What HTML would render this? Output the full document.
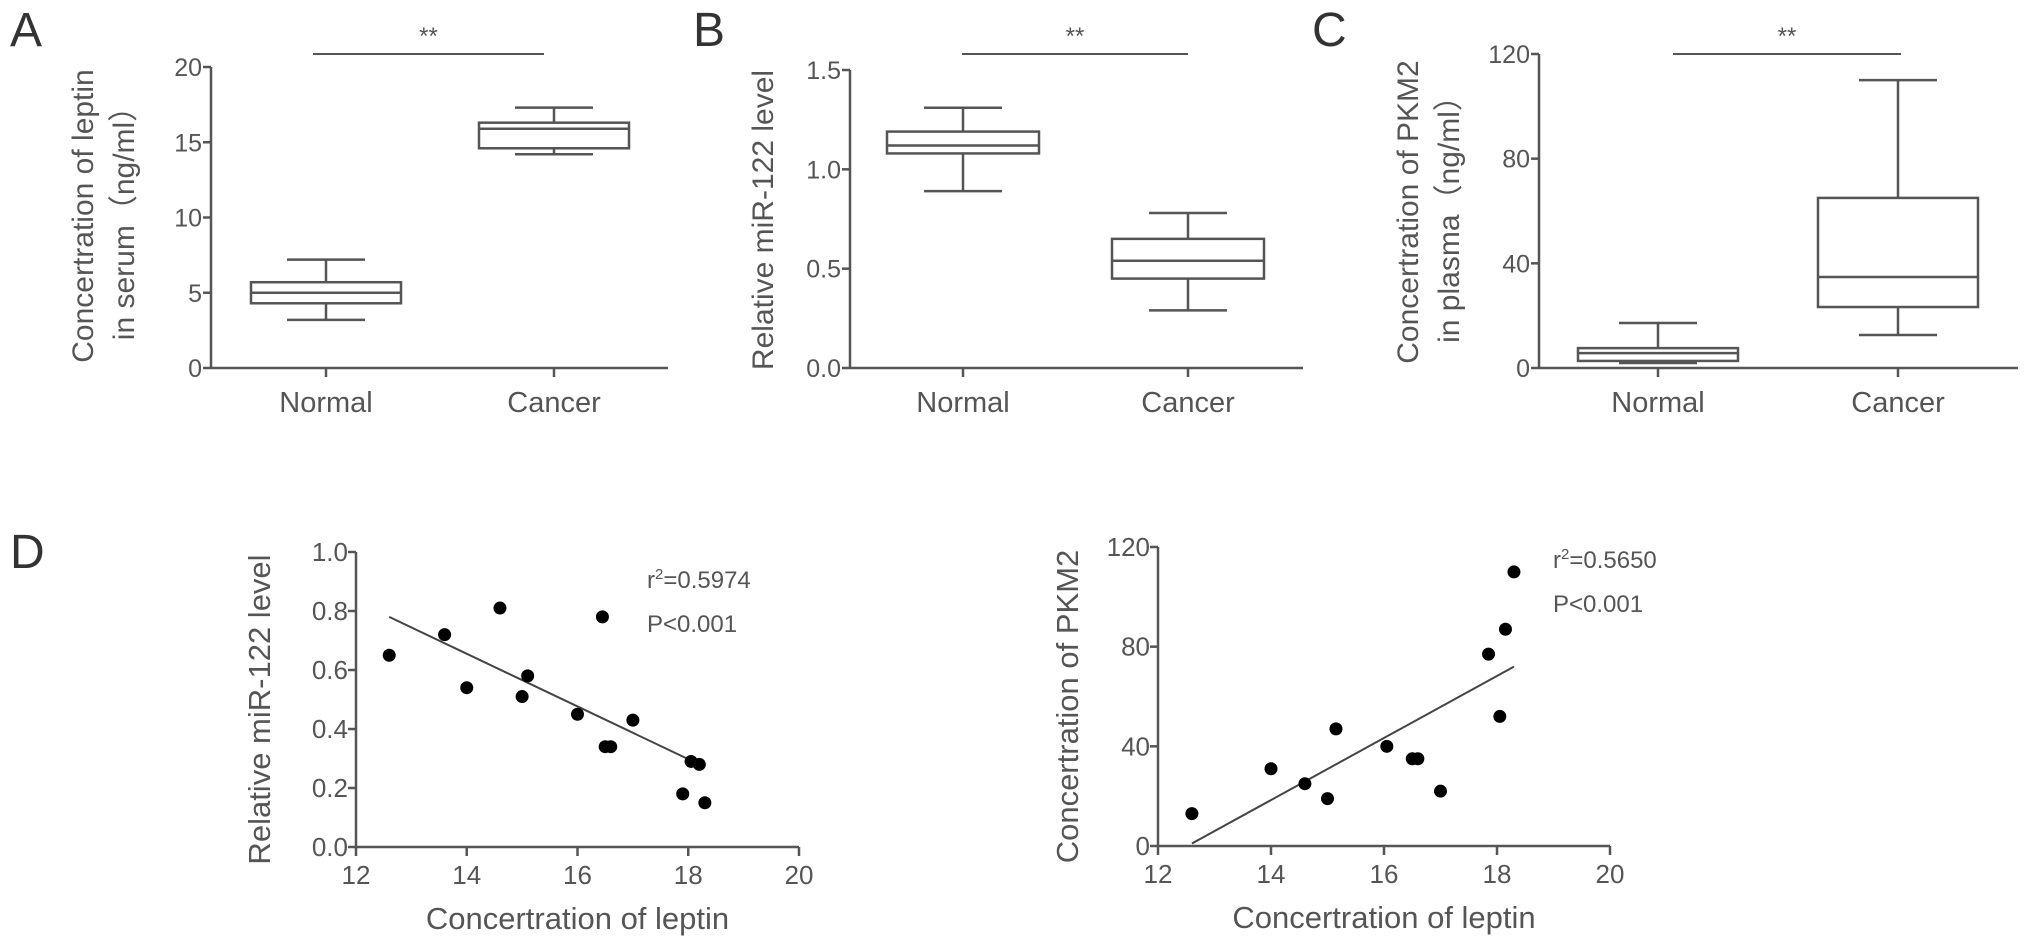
<!DOCTYPE html>
<html><head><meta charset="utf-8"><style>
html,body{margin:0;padding:0;background:#fff;}
svg{display:block;font-family:"Liberation Sans","Noto Sans CJK SC",sans-serif;}
</style></head><body>
<svg id="fig" width="2031" height="951" viewBox="0 0 2031 951" xmlns="http://www.w3.org/2000/svg"></svg>
<script>
// Box data: [min, q1, median, q3, max]
const boxCats = ["Normal","Cancer"];
const boxA = [[3.2,4.3,5.0,5.7,7.2],[14.2,14.6,15.9,16.3,17.3]];
const boxB = [[0.89,1.08,1.12,1.19,1.31],[0.29,0.45,0.54,0.65,0.78]];
const boxC = [[1.9,2.7,5.7,7.6,17.2],[12.6,23.3,34.8,65,110]];
const ticksA = [0,5,10,15,20];
const ticksB = [0,0.5,1.0,1.5];
const ticksBLabels = ["0.0","0.5","1.0","1.5"];
const ticksC = [0,40,80,120];
// Panel D data
const leptinL = [12.6,13.6,14.0,14.6,15.0,15.1,16.0,16.45,16.5,16.6,17.0,17.9,18.05,18.2,18.3];
const mirL = [0.65,0.72,0.54,0.81,0.51,0.58,0.45,0.78,0.34,0.34,0.43,0.18,0.29,0.28,0.15];
const fitL = [[12.6,0.78],[18.2,0.28]];
const leptinR = [12.6,14.0,14.6,15.0,15.15,16.05,16.5,16.6,17.0,17.85,18.05,18.15,18.3];
const pkmR = [13,31,25,19,47,40,35,35,22,77,52,87,110];
const fitR = [[12.6,1],[18.3,72]];
const ticksDx = [12,14,16,18,20];
const ticksDL = [0,0.2,0.4,0.6,0.8,1.0];
const ticksDLLabels = ["0.0","0.2","0.4","0.6","0.8","1.0"];
const ticksDR = [0,40,80,120];

const svg = document.getElementById('fig');
const NS = "http://www.w3.org/2000/svg";
const AX = "#555", TX = "#555";
function el(tag, attrs, parent){const e=document.createElementNS(NS,tag);for(const k in attrs)e.setAttribute(k,attrs[k]);(parent||svg).appendChild(e);return e;}
function txt(s, attrs, parent){const e=el('text',attrs,parent);e.textContent=s;return e;}
function lin(x1,y1,x2,y2,parent,w){return el('line',{x1,y1,x2,y2,stroke:AX,'stroke-width':w||2.5},parent);}

function boxPanel(cfg){
  const g=el('g',{});
  
  
  const y=v=>cfg.y0+(v-cfg.vmin)/(cfg.vmax-cfg.vmin)*(cfg.y1-cfg.y0);
  const ya=lin(cfg.ax,y(cfg.vmax),cfg.ax,cfg.y0,g);
  
  
  const xa=lin(cfg.ax,cfg.y0,cfg.xend,cfg.y0,g);
  
  
  cfg.ticks.forEach((t,i)=>{
    lin(cfg.ax-8,y(t),cfg.ax,y(t),g);
    const tl=txt(cfg.tickLabels?cfg.tickLabels[i]:String(t),{x:cfg.ax-9,y:y(t)+9,'text-anchor':'end','font-size':25,fill:TX},g);
    
    
  });
  cfg.data.forEach((d,i)=>{
    const cx=cfg.cx[i];
    lin(cx,cfg.y0,cx,cfg.y0+9,g);
    const cl=txt(boxCats[i],{x:cx,y:cfg.y0+44,'text-anchor':'middle','font-size':29,fill:TX},g);
    
    
    const b=el('g',{},g);
    
    
    const hw=cfg.hw, cw=39;
    lin(cx,y(d[0]),cx,y(d[1]),b,2.5);
    lin(cx,y(d[3]),cx,y(d[4]),b,2.5);
    lin(cx-cw,y(d[0]),cx+cw,y(d[0]),b,2.5);
    lin(cx-cw,y(d[4]),cx+cw,y(d[4]),b,2.5);
    el('rect',{x:cx-hw,y:y(d[3]),width:2*hw,height:y(d[1])-y(d[3]),fill:'none',stroke:AX,'stroke-width':2.5},b);
    lin(cx-hw,y(d[2]),cx+hw,y(d[2]),b,2.5);
  });
  const sl=lin(cfg.sig[0],54,cfg.sig[1],54,g,2);
  
  
  const st=txt('**',{x:(cfg.sig[0]+cfg.sig[1])/2,y:44,'text-anchor':'middle','font-size':24,fill:TX},g);
  
  
  const pl=txt(cfg.letter,{x:cfg.lx,y:46,'font-size':48,fill:'#333'},g);
  
  
  cfg.title.forEach((t,i)=>{
    const tt=txt(t,{x:0,y:0,'text-anchor':'middle','font-size':30,fill:TX,transform:`translate(${cfg.tx[i]},${cfg.ty}) rotate(-90)`},g);
    
    
  });
}

boxPanel({name:'panel-a',letter:'A',lx:10,ax:211,y0:368,y1:67,vmin:0,vmax:20,xend:668,ticks:ticksA,data:boxA,cx:[326,554],hw:75,sig:[313,544],
  title:['Concertration of leptin','in serum（ng/ml）'],tx:[93,134],ty:216});
boxPanel({name:'panel-b',letter:'B',lx:693,ax:850,y0:368,y1:70,vmin:0,vmax:1.5,xend:1303,ticks:ticksB,tickLabels:ticksBLabels,data:boxB,cx:[963,1188],hw:76,sig:[962,1188],
  title:['Relative miR-122 level'],tx:[773],ty:220});
boxPanel({name:'panel-c',letter:'C',lx:1312,ax:1539,y0:368,y1:54,vmin:0,vmax:120,xend:2018,ticks:ticksC,data:boxC,cx:[1658,1898],hw:80,sig:[1673,1901],
  title:['Concertration of PKM2','in plasma（ng/ml）'],tx:[1418,1459],ty:212});

function scatterPanel(cfg){
  const g=el('g',{});
  
  
  const x=v=>cfg.ax+(v-12)/(20-12)*(cfg.xend-cfg.ax);
  const y=v=>cfg.y0+(v-cfg.vmin)/(cfg.vmax-cfg.vmin)*(cfg.y1-cfg.y0);
  const ya=lin(cfg.ax,cfg.y1,cfg.ax,cfg.y0,g);
  
  
  const xa=lin(cfg.ax,cfg.y0,cfg.xend,cfg.y0,g);
  
  
  cfg.yt.forEach((t,i)=>{
    lin(cfg.ax-8,y(t),cfg.ax,y(t),g);
    const tl=txt(cfg.ytl?cfg.ytl[i]:String(t),{x:cfg.ax-8,y:y(t)+9,'text-anchor':'end','font-size':26,fill:TX},g);
    
    
  });
  ticksDx.forEach(t=>{
    lin(x(t),cfg.y0,x(t),cfg.y0+9,g);
    const tl=txt(String(t),{x:x(t),y:cfg.y0+37,'text-anchor':'middle','font-size':26,fill:TX},g);
    
    
  });
  const fl=el('line',{x1:x(cfg.fit[0][0]),y1:y(cfg.fit[0][1]),x2:x(cfg.fit[1][0]),y2:y(cfg.fit[1][1]),stroke:'#444','stroke-width':2},g);
  
  
  cfg.xs.forEach((v,i)=>{
    const c=el('circle',{cx:x(v),cy:y(cfg.ys[i]),r:6.5,fill:'#000'},g);
    
    
  });
  const r=el('text',{x:cfg.rx,y:cfg.ry,'font-size':24,fill:TX},g);
  r.innerHTML=`r<tspan dy="-9" font-size="15">2</tspan><tspan dy="9">=${cfg.r2}</tspan>`;
  
  
  const p=txt('P<0.001',{x:cfg.rx,y:cfg.ry+44,'font-size':24,fill:TX},g);
  
  
  const yt=txt(cfg.ytitle,{x:0,y:0,'text-anchor':'middle','font-size':31,fill:TX,transform:`translate(${cfg.ytx},${(cfg.y0+cfg.y1)/2+10}) rotate(-90)`},g);
  
  
  const xt=txt('Concertration of leptin',{x:(cfg.ax+cfg.xend)/2,y:cfg.y0+82,'text-anchor':'middle','font-size':31,fill:TX},g);
  
  
}
scatterPanel({name:'panel-d-mir122',ax:356,xend:799,y0:847,y1:552,vmin:0,vmax:1.0,yt:ticksDL,ytl:ticksDLLabels,xs:leptinL,ys:mirL,fit:fitL,rx:647,ry:588,r2:'0.5974',ytitle:'Relative miR-122 level',ytx:270});
scatterPanel({name:'panel-d-pkm2',ax:1158,xend:1610,y0:846,y1:547,vmin:0,vmax:120,yt:ticksDR,xs:leptinR,ys:pkmR,fit:fitR,rx:1553,ry:568,r2:'0.5650',ytitle:'Concertration of PKM2',ytx:1078});
const dl=txt('D',{x:10,y:568,'font-size':48,fill:'#333'});


</script>
</body></html>
